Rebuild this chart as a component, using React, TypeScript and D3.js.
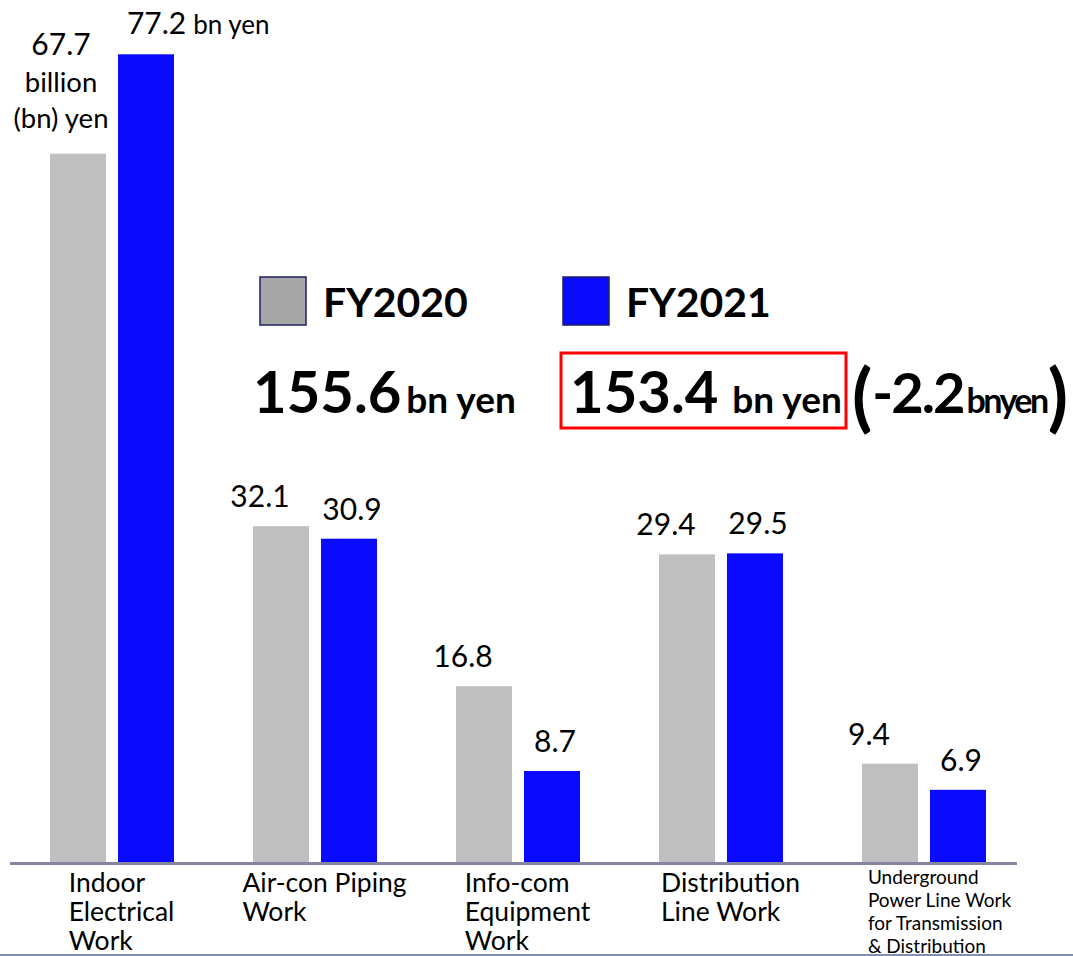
import React, { useEffect, useRef } from "react";
import * as d3 from "d3";

// Construction work orders by category (billion yen)
const categories = [
  "Indoor\nElectrical\nWork",
  "Air-con Piping\nWork",
  "Info-com\nEquipment\nWork",
  "Distribution\nLine Work",
  "Underground\nPower Line Work\nfor Transmission\n& Distribution",
];
const seriesNames = ["FY2020", "FY2021"];
const fy2020 = [67.7, 32.1, 16.8, 29.4, 9.4];
const fy2021 = [77.2, 30.9, 8.7, 29.5, 6.9];
const totals = [155.6, 153.4];
const unitLong = ["billion", "(bn) yen"];
const unitShort = "bn yen";

const W = 1073;
const H = 956;
const FONT = "Lato, 'Open Sans', sans-serif";
const GRAY = "#bfbfbf";
const BLUE = "#0a0aff";

export default function App() {
  const ref = useRef<SVGSVGElement | null>(null);

  useEffect(() => {
    const svg = d3.select(ref.current);
    svg.selectAll("*").remove();

    const baseY = 862;
    const y = d3.scaleLinear().domain([0, 80]).range([baseY, 25]);
    const x = d3.scaleBand<string>().domain(categories).range([10, 1025]).padding(0);
    const xs = d3
      .scaleBand<string>()
      .domain(seriesNames)
      .range([40, 164])
      .paddingInner(0.176)
      .paddingOuter(0);
    const colors = [GRAY, BLUE];
    const series = [fy2020, fy2021];

    const g = svg
      .append("g")
      .attr("font-family", FONT)
      .attr("fill", "#000")
      .style("font-variant-numeric", "tabular-nums");

    // bars
    seriesNames.forEach((name, si) => {
      g.append("g")
        .selectAll("rect")
        .data(series[si])
        .join("rect")
        .attr("x", (_, i) => (x(categories[i]) as number) + (xs(name) as number))
        .attr("y", (d) => y(d))
        .attr("width", xs.bandwidth())
        .attr("height", (d) => baseY - y(d))
        .attr("fill", colors[si]);
    });

    // baseline
    g.append("line")
      .attr("x1", 10)
      .attr("x2", 1017)
      .attr("y1", baseY + 1.5)
      .attr("y2", baseY + 1.5)
      .attr("stroke", "#8585a0")
      .attr("stroke-width", 3);

    // value labels
    series.forEach((vals, si) => {
      vals.forEach((v, i) => {
        const bx = (x(categories[i]) as number) + (xs(seriesNames[si]) as number);
        const cx = bx + xs.bandwidth() / 2;
        const top = y(v);
        if (i === 0 && si === 0) {
          const lx = cx - 17;
          const t = g.append("text").attr("text-anchor", "middle").attr("font-size", 30);
          t.append("tspan").attr("x", lx).attr("y", top - 99).text(v.toFixed(1));
          unitLong.forEach((u, k) => {
            t.append("tspan")
              .attr("x", lx)
              .attr("y", top - 62 + k * 36)
              .attr("font-size", 27.5)
              .text(u);
          });
        } else if (i === 0 && si === 1) {
          const t = g.append("text").attr("x", bx + 9).attr("y", top - 20).attr("font-size", 30);
          t.append("tspan").text(v.toFixed(1));
          t.append("tspan").attr("font-size", 26).attr("dx", 7).text(unitShort);
        } else {
          g.append("text")
            .attr("x", si === 0 ? cx - 21 : cx + 3)
            .attr("y", top - 19)
            .attr("text-anchor", "middle")
            .attr("font-size", 30)
            .text(v.toFixed(1));
        }
      });
    });

    // category labels (left-aligned blocks, centred under each group)
    categories.forEach((c, i) => {
      const lines = c.split("\n");
      const small = lines.length > 3;
      const fs = small ? 19 : 26.5;
      const lh = small ? 23 : 29;
      const t = g.append("text").attr("font-size", fs);
      const spans = lines.map((ln, k) =>
        t.append("tspan").attr("y", (small ? 884 : 892) + k * lh).text(ln)
      );
      const maxW = d3.max(spans, (s) => (s.node() as SVGTSpanElement).getComputedTextLength()) || 0;
      const shift = small ? 16 : 10;
      const gx = (x(c) as number) + x.bandwidth() / 2 + shift - maxW / 2;
      spans.forEach((s) => s.attr("x", gx));
    });

    // legend
    const legX = [260, 563];
    seriesNames.forEach((name, si) => {
      g.append("rect")
        .attr("x", legX[si])
        .attr("y", 277)
        .attr("width", 46)
        .attr("height", 48)
        .attr("fill", si === 0 ? "#a6a6a6" : BLUE)
        .attr("stroke", "#1f1f5f")
        .attr("stroke-width", 1.5);
      g.append("text")
        .attr("x", legX[si] + 63)
        .attr("y", 317)
        .attr("font-size", 41)
        .attr("font-weight", 700)
        .text(name);
    });

    // totals
    const totX = [253, 570];
    totals.forEach((tv, si) => {
      const t = g.append("text").attr("x", totX[si]).attr("y", 413).attr("font-weight", 700);
      t.append("tspan").attr("font-size", 58).text(tv.toFixed(1));
      t.append("tspan").attr("font-size", 37).attr("dx", si === 0 ? 5 : 14).text(unitShort);
    });
    g.append("rect")
      .attr("x", 561)
      .attr("y", 353)
      .attr("width", 285)
      .attr("height", 75)
      .attr("fill", "none")
      .attr("stroke", "#ff0000")
      .attr("stroke-width", 3);

    const diff = totals[1] - totals[0];
    const dt = g.append("text").attr("x", 852).attr("y", 423).attr("font-weight", 700);
    dt.append("tspan").attr("font-size", 74).text("(");
    dt.append("tspan").attr("font-size", 56).attr("dy", -10).attr("letter-spacing", -2).text(diff.toFixed(1));
    dt.append("tspan").attr("font-size", 34).attr("dx", 3).attr("letter-spacing", -2.5).text("bnyen");
    dt.append("tspan").attr("font-size", 74).attr("dx", 1).attr("dy", 10).text(")");

    // bottom rule
    svg
      .append("line")
      .attr("x1", 0)
      .attr("x2", W)
      .attr("y1", 955)
      .attr("y2", 955)
      .attr("stroke", "#7f92b4")
      .attr("stroke-width", 2);
  }, []);

  return (
    <svg
      ref={ref}
      width={W}
      height={H}
      style={{ position: "absolute", left: 0, top: 0, background: "#fff" }}
    />
  );
}
